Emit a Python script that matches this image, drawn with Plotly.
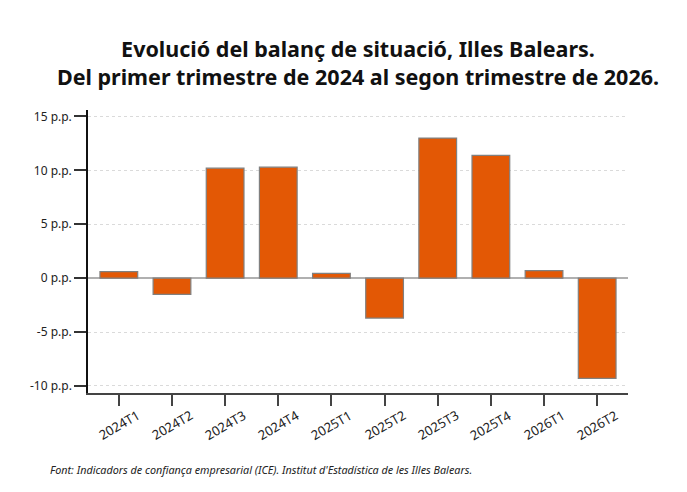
import plotly.graph_objects as go

categories = ["2024T1", "2024T2", "2024T3", "2024T4", "2025T1",
              "2025T2", "2025T3", "2025T4", "2026T1", "2026T2"]
values = [0.6, -1.5, 10.2, 10.3, 0.45, -3.7, 13.0, 11.4, 0.7, -9.3]
ytick_vals = [-10, -5, 0, 5, 10, 15]
ytick_text = [f"{v} p.p." for v in ytick_vals]

title_text = ("<b>Evolució del balanç de situació, Illes Balears.</b><br>"
              "<b>Del primer trimestre de 2024 al segon trimestre de 2026.</b>")
source_text = "<i>Font: Indicadors de confiança empresarial (ICE). Institut d'Estadística de les Illes Balears.</i>"

fig = go.Figure(go.Bar(
    x=categories, y=values,
    marker=dict(color="#E35805", line=dict(color="#808080", width=1.2)),
    width=0.71,
))

annotations = [dict(
    text=c, x=c, xref="x", y=-0.113, yref="paper",
    xanchor="center", yanchor="middle", textangle=-30,
    showarrow=False, font=dict(size=13, color="#222"),
) for c in categories]

annotations.append(dict(
    text=source_text, xref="paper", yref="paper",
    x=-0.074, y=-0.272, xanchor="left", yanchor="middle",
    showarrow=False, font=dict(size=10.8, color="#222"),
))

fig.update_layout(
    width=687, height=492,
    margin=dict(l=88, r=59, t=110, b=99),
    paper_bgcolor="white", plot_bgcolor="white",
    font=dict(family="Noto Sans, Open Sans, sans-serif", size=12, color="#222"),
    showlegend=False,
    title=dict(text=title_text, x=0.5, xref="paper", xanchor="center",
               y=1 - 57 / 492, yref="container", yanchor="middle",
               font=dict(size=21.5, color="#111")),
    xaxis=dict(
        type="category", range=[-0.58, 9.58],
        showline=True, linecolor="#444", linewidth=1.5,
        ticks="outside", ticklen=11, tickcolor="#444", tickwidth=1.5,
        showticklabels=False, showgrid=False,
    ),
    yaxis=dict(
        range=[-10.65, 15.6], tickvals=ytick_vals, ticktext=ytick_text,
        showline=True, linecolor="#111", linewidth=1.5,
        ticks="outside", ticklen=12, tickcolor="#333", tickwidth=1.5,
        showgrid=True, gridcolor="#dadada", griddash="dot", gridwidth=1,
        zeroline=True, zerolinecolor="#b0b0b0", zerolinewidth=2,
        tickfont=dict(size=12, color="#222"),
    ),
    annotations=annotations,
)

fig.write_html("out.html")
